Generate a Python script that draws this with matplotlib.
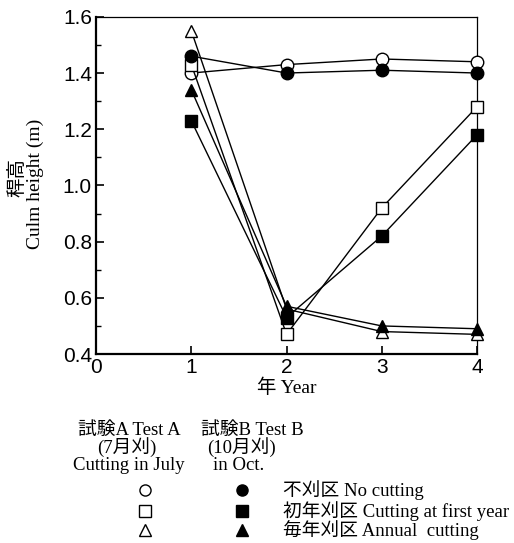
import numpy as np
import matplotlib
matplotlib.use('Agg')
from matplotlib import pyplot as plt
from matplotlib.ticker import MultipleLocator

years = [1, 2, 3, 4]

# Test A (cutting in July) - open symbols
a_no_cut = [1.40, 1.43, 1.45, 1.44]
a_first = [1.43, 0.47, 0.92, 1.28]
a_annual = [1.55, 0.56, 0.48, 0.47]

# Test B (cutting in Oct.) - filled symbols
b_no_cut = [1.46, 1.40, 1.41, 1.40]
b_first = [1.23, 0.53, 0.82, 1.18]
b_annual = [1.34, 0.57, 0.50, 0.49]

serif = ['Liberation Serif', 'Noto Sans CJK JP']

fig = plt.figure(figsize=(5.14, 5.43), dpi=100)
ax = fig.add_axes([0.187, 0.348, 0.741, 0.621])

series = [
    (a_no_cut, 'o', 'white'), (a_first, 's', 'white'), (a_annual, '^', 'white'),
    (b_no_cut, 'o', 'black'), (b_first, 's', 'black'), (b_annual, '^', 'black'),
]
for vals, m, fc in series:
    ax.plot(years, vals, color='black', lw=1, marker=m, ms=9,
            mfc=fc, mec='black', mew=1, clip_on=False, zorder=3)

ax.set_xlim(0, 4)
ax.set_ylim(0.4, 1.6)
ax.set_xticks([0, 1, 2, 3, 4])
ax.yaxis.set_major_locator(MultipleLocator(0.2))
ax.yaxis.set_minor_locator(MultipleLocator(0.1))
ax.yaxis.set_major_formatter(matplotlib.ticker.FormatStrFormatter('%.1f'))
ax.tick_params(direction='in', labelsize=15, length=6, width=1.2, pad=3)
ax.tick_params(which='minor', direction='in', length=3.5, width=1)
for lab in ax.get_xticklabels() + ax.get_yticklabels():
    lab.set_family('Liberation Sans')
ax.spines['left'].set_linewidth(1.6)
ax.spines['bottom'].set_linewidth(1.6)
ax.spines['top'].set_linewidth(0.9)
ax.spines['right'].set_linewidth(0.9)

ax.set_xlabel('年 Year', family=serif, fontsize=14, labelpad=1)
fig.text(0.033, 0.674, '稈高', family=serif, fontsize=14, rotation=90,
         ha='center', va='center')
fig.text(0.069, 0.661, 'Culm height (m)', family=serif, fontsize=14, rotation=90,
         ha='center', va='center')

# legend block
fs = 13.5
fig.text(129 / 514, 1 - 430 / 543, '試験A Test A', family=serif, fontsize=fs, ha='center', va='center')
fig.text(127 / 514, 1 - 447 / 543, '(7月刈)', family=serif, fontsize=fs, ha='center', va='center')
fig.text(129 / 514, 1 - 466 / 543, 'Cutting in July', family=serif, fontsize=fs, ha='center', va='center')
fig.text(252 / 514, 1 - 430 / 543, '試験B Test B', family=serif, fontsize=fs, ha='center', va='center')
fig.text(241 / 514, 1 - 447 / 543, '(10月刈)', family=serif, fontsize=fs, ha='center', va='center')
fig.text(239 / 514, 1 - 466 / 543, 'in Oct.', family=serif, fontsize=fs, ha='center', va='center')

labels = ['不刈区 No cutting', '初年刈区 Cutting at first year', '毎年刈区 Annual  cutting']
markers = ['o', 's', '^']
rows = [490, 511, 530]
for lab, m, r in zip(labels, markers, rows):
    yy = 1 - r / 543
    fig.lines.append(plt.Line2D([145 / 514], [yy], transform=fig.transFigure, marker=m,
                                ms=8, mfc='white', mec='black', mew=1, ls='none'))
    fig.lines.append(plt.Line2D([242 / 514], [yy], transform=fig.transFigure, marker=m,
                                ms=8, mfc='black', mec='black', mew=1, ls='none'))
    fig.text(283 / 514, yy, lab, family=serif, fontsize=fs, ha='left', va='center')

plt.savefig('out.png', dpi=100)
